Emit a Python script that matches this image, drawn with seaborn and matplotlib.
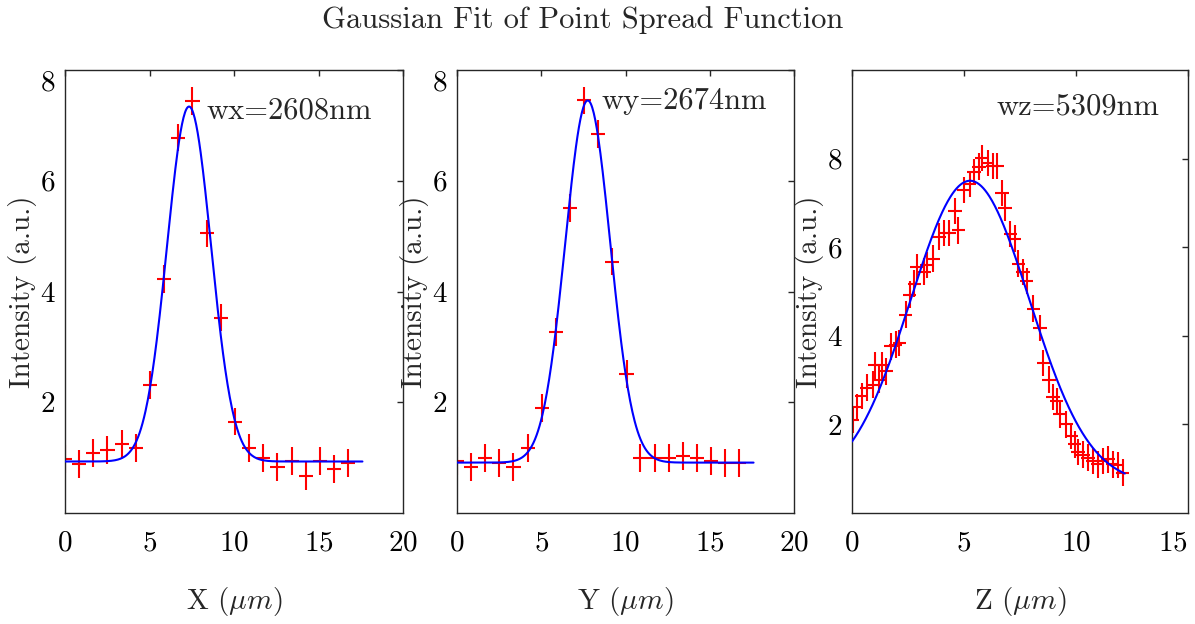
import numpy as np
import pandas as pd
import matplotlib
matplotlib.use("Agg")
import matplotlib.pyplot as plt
import seaborn as sns

# ---------------- data ----------------
x_grid = [0.00, 0.84, 1.68, 2.51, 3.35, 4.19, 5.03, 5.87, 6.70, 7.54, 8.38,
          9.22, 10.06, 10.89, 11.73, 12.57, 13.41, 14.25, 15.08, 15.92, 16.76]
x_intensity = [0.97, 0.88, 1.08, 1.14, 1.24, 1.18, 2.31, 4.23, 6.78, 7.44, 5.05,
               3.53, 1.65, 1.18, 0.99, 0.83, 0.94, 0.67, 0.94, 0.79, 0.90]
y_intensity = [0.94, 0.83, 0.99, 0.90, 0.83, 1.18, 1.90, 3.27, 5.51, 7.45, 6.84,
               4.54, 2.51, 0.99, 0.99, 0.99, 1.03, 0.99, 0.94, 0.90, 0.90]

z_pos = [0.03, 0.21, 0.43, 0.65, 0.94, 1.02, 1.21, 1.36, 1.53, 1.75, 1.95, 2.12,
         2.39, 2.57, 2.79, 2.89, 3.23, 3.33, 3.63, 3.89, 4.12, 4.34, 4.60, 4.75,
         5.00, 5.25, 5.44, 5.66, 5.81, 6.05, 6.28, 6.47, 6.70, 6.84, 7.07, 7.26,
         7.43, 7.63, 7.80, 8.10, 8.39, 8.54, 8.79, 8.98, 9.13, 9.28, 9.57, 9.79,
         9.94, 10.09, 10.31, 10.53, 10.75, 10.97, 11.19, 11.42, 11.64, 11.86, 12.08]
z_intensity = [2.10, 2.39, 2.64, 2.83, 2.90, 3.33, 3.01, 3.33, 3.20, 3.76, 3.80, 3.84,
               4.48, 4.93, 5.18, 5.55, 5.45, 5.60, 5.74, 6.24, 6.32, 6.32, 6.82, 6.38,
               7.29, 7.43, 7.70, 7.82, 8.01, 7.90, 7.83, 7.83, 7.22, 6.89, 6.30, 6.19,
               5.63, 5.44, 5.24, 4.61, 4.18, 3.39, 3.01, 2.62, 2.52, 2.23, 2.00, 1.74,
               1.55, 1.38, 1.32, 1.25, 1.17, 1.10, 1.17, 1.21, 1.10, 1.08, 0.91]

# Gaussian fit parameters: amplitude, centre, width (w = 2*sigma), baseline
fit_x = dict(amp=6.41, mu=7.34, w=2.608, base=0.93, xmax=17.6)
fit_y = dict(amp=6.54, mu=7.76, w=2.674, base=0.91, xmax=17.6)
fit_z = dict(amp=6.84, mu=5.27, w=5.309, base=0.66, xmax=12.18)

labels = ["wx=2608nm", "wy=2674nm", "wz=5309nm"]
xlabels = [r"X ($\mu m$)", r"Y ($\mu m$)", r"Z ($\mu m$)"]
title = "Gaussian Fit of Point Spread Function"

# ---------------- style ----------------
sns.set_theme(style="white")
plt.rcParams["font.family"] = ["cmr10", "DejaVu Serif"]
plt.rcParams["mathtext.fontset"] = "cm"
plt.rcParams["axes.formatter.use_mathtext"] = True
plt.rcParams["axes.unicode_minus"] = False

W, H = 1195, 624
fig = plt.figure(figsize=(W / 100, H / 100), dpi=100)
fig.patch.set_facecolor("white")

boxes = [(65, 403), (457, 794), (852, 1188)]
top_px, bot_px = 70, 513

panels = [
    (x_grid, x_intensity, fit_x, 0.42, 0.25, (0, 20), [0, 5, 10, 15, 20], (0, 8), (8.4, 7.26)),
    (x_grid, y_intensity, fit_y, 0.42, 0.25, (0, 20), [0, 5, 10, 15, 20], (0, 8), (8.6, 7.44)),
    (z_pos, z_intensity, fit_z, 0.30, 0.30, (0, 15), [0, 5, 10, 15], (0, 10), (6.46, 9.16)),
]

FS = 21
axc = "#262626"
for i, (xs, ys, fp, xe, ye, xlim, xticks, ylim, tpos) in enumerate(panels):
    l, r = boxes[i]
    ax = fig.add_axes([l / W, (H - bot_px) / H, (r - l) / W, (bot_px - top_px) / H])
    ax.errorbar(xs, ys, xerr=xe, yerr=ye, fmt="none", ecolor="red",
                elinewidth=1.5, capsize=0, zorder=2)
    xf = np.linspace(0, fp["xmax"], 400)
    sig = fp["w"] / 2.0
    yf = fp["base"] + fp["amp"] * np.exp(-(xf - fp["mu"]) ** 2 / (2 * sig ** 2))
    df = pd.DataFrame({"x": xf, "y": yf})
    sns.lineplot(data=df, x="x", y="y", ax=ax, color="blue", lw=1.5, zorder=3)
    ax.set_xlim(*xlim)
    ax.set_ylim(*ylim)
    ax.set_xticks(xticks)
    ax.set_yticks([2, 4, 6, 8])
    ax.tick_params(direction="in", length=4, width=1, colors=axc, labelcolor="black",
                   top=True, right=True, labelsize=FS)
    ax.tick_params(axis="x", pad=12)
    ax.tick_params(axis="y", pad=7)
    for s in ax.spines.values():
        s.set_color(axc)
        s.set_linewidth(1.0)
    ax.set_xlabel(xlabels[i], fontsize=FS, labelpad=21)
    ax.set_ylabel("Intensity (a.u.)", fontsize=FS, labelpad=2)
    ax.text(tpos[0], tpos[1], labels[i], fontsize=22, ha="left", va="center")
    if ylim[1] == 8:
        for t in ax.get_yticklabels():
            if t.get_text() and "8" in t.get_text():
                t.set_verticalalignment("top")
    if xlim[1] == 15:
        for t in ax.get_xticklabels():
            if t.get_text() and "15" in t.get_text():
                t.set_horizontalalignment("right")

fig.text(583 / W, 1 - 20 / H, title, ha="center", va="center", fontsize=22)
fig.savefig("out.png", dpi=100, facecolor="white")
